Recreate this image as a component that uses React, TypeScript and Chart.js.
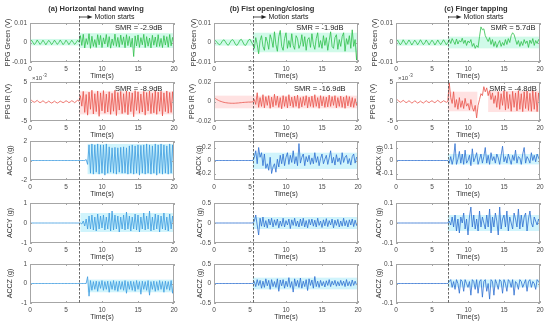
import React, { useEffect, useRef } from 'react';
import { Chart, registerables } from 'chart.js';
Chart.register(...registerables);

// ---------- data ----------
const TIME_STEP = 0.2; // s between samples, first sample at 0 s
const TIME_TICKS = [0, 5, 10, 15, 20];
const MOTION_START = [6.8, 5.4, 7.2];
const COLUMN_TITLES = ['(a) Horizontal hand waving', '(b) Fist opening/closing', '(c) Finger tapping'];
const ROW_TITLES = ['PPG Green (V)', 'PPG IR (V)', 'ACCX (g)', 'ACCY (g)', 'ACCZ (g)'];
const SMR_GREEN = ['SMR = -2.9dB', 'SMR = -1.9dB', 'SMR = 5.7dB'];
const SMR_IR = ['SMR = -8.9dB', 'SMR = -16.9dB', 'SMR = -4.8dB'];

// y tick values
const Y_TICKS_GREEN = [-0.01, 0, 0.01];
const Y_TICKS_IR_A = [-5, 0, 5]; // x10^-3
const Y_TICKS_IR_B = [-0.02, 0, 0.02];
const Y_TICKS_IR_C = [-5, 0, 5]; // x10^-3
const Y_TICKS_ACCX_A = [-2, 0, 2];
const Y_TICKS_ACCX_B = [-0.2, 0, 0.2];
const Y_TICKS_ACCX_C = [-0.1, 0, 0.1];
const Y_TICKS_ACCYZ_A = [-1, 0, 1];
const Y_TICKS_ACCYZ_B = [-0.5, 0, 0.5];
const Y_TICKS_ACCYZ_C = [-0.1, 0, 0.1];

// ---- column (a) horizontal hand waving ----
const GREEN_A_MV = [
  0.2,1.2,0.1,-1.1,-0.2,1.3,0.2,-1.0,-0.1,1.2,0.1,-1.2,0.0,1.1,0.2,-1.1,-0.1,1.2,0.1,-1.0,
  0.0,1.3,0.1,-1.1,-0.2,1.2,0.2,-1.1,0.0,1.2,0.1,-1.0,-0.1,1.1,0.3,
  3.5,-1.5,4.2,-2.8,2.0,-1.0,4.5,-3.0,3.2,-2.0,
  1.5,-2.5,4.0,-1.2,3.6,-2.6,2.4,-0.8,4.1,-2.2,
  3.0,-2.9,1.8,-1.5,4.3,-2.0,2.6,-2.4,3.8,-1.1,
  2.9,-2.7,4.0,-1.6,3.1,-2.3,2.2,-7.2,3.4,-1.8,
  3.9,-2.5,2.5,-1.2,4.2,-2.6,3.0,-1.9,2.3,-2.8,
  3.7,-1.4,2.8,-2.2,4.0,-2.0,2.1,-2.6,3.5,-1.3,
  3.0,-2.4,4.1,-1.7,2.6,-1.0,
];
const IR_A_E3 = [
  0.1,0.3,0,-0.2,0,0.3,-0.1,-0.3,-0.1,0.2,-0.1,-0.4,-0.2,0.1,-0.2,-0.4,-0.2,0.1,-0.2,-0.4,
  -0.2,0.1,-0.1,-0.3,-0.1,0.2,0,-0.3,-0.1,0.2,0,-0.3,0,0.3,0.1,
  1.5,-1.2,2.6,-2.8,1.8,-3.5,2.4,-2.0,2.9,-3.2,
  2.0,-2.6,2.7,-3.8,2.2,-2.4,2.8,-3.0,1.9,-2.7,
  2.5,-3.3,2.1,-2.5,2.9,-3.6,2.3,-2.2,2.6,-3.1,
  2.0,-2.8,2.7,-3.4,2.4,-2.6,2.2,-3.9,2.8,-2.3,
  2.5,-3.0,1.9,-2.7,2.6,-3.5,2.3,-2.4,2.7,-3.1,
  2.1,-2.9,2.8,-3.3,2.4,-2.5,2.6,-3.7,2.2,-2.6,
  2.7,-3.0,2.3,-2.8,2.5,-2.2,
];
const ACCX_A = [
  0,0,0,0,0,0,0,0,0,0, 0,0,0,0,0,0,0,0,0,0, 0,0,0,0,0,0,0,0,0,0, 0,0,0,0,0,0,0,0,0,
  0.1,-0.4,
  1.6,-1.3,1.7,-1.4,1.6,-1.2,1.7,-1.4,1.6,-1.3,
  1.6,-1.5,1.7,-1.3,1.4,-1.2,1.3,-1.3,1.35,-1.4,
  1.3,-1.2,1.35,-1.3,1.4,-1.3,1.3,-1.4,1.5,-1.3,
  1.6,-1.4,1.5,-1.3,1.6,-1.5,1.55,-1.3,1.6,-1.4,
  1.7,-1.3,1.6,-1.4,1.5,-1.3,1.7,-1.5,1.6,-1.3,
  1.7,-1.4,1.6,-1.3,1.5,-1.4,1.7,-1.3,1.6,-1.2,
];
const ACCY_A = [
  0,0,0,0,0,0,0,0,0,0, 0,0,0,0,0,0,0,0,0,0, 0,0,0,0,0,0,0,0,0,0, 0,0,0,0,0,0,
  -0.05,0.1,-0.15,0.2,-0.3,
  0.35,-0.3,0.4,-0.35,0.3,-0.4,0.45,-0.3,0.35,-0.25,
  0.4,-0.35,0.3,-0.3,0.5,-0.4,0.6,-0.35,0.4,-0.3,
  0.35,-0.45,0.3,-0.3,0.4,-0.35,0.55,-0.3,0.35,-0.4,
  0.3,-0.3,0.45,-0.35,0.4,-0.45,0.3,-0.3,0.5,-0.35,
  0.35,-0.3,0.6,-0.4,0.3,-0.35,0.45,-0.3,0.4,-0.45,
  0.35,-0.3,0.5,-0.35,0.3,-0.4,0.45,-0.3,0.35,-0.3,
];
const ACCZ_A = [
  0,0,0,0,0,0,0,0,0,0, 0,0,0,0,0,0,0,0,0,0, 0,0,0,0,0,0,0,0,0,0, 0,0,0,0,0,0,0,0,0,0,
  0.35,-0.65,
  0.15,-0.35,0.1,-0.3,0.12,-0.4,0.1,-0.25,0.15,-0.35,
  0.1,-0.3,0.12,-0.45,0.1,-0.3,0.15,-0.35,0.1,-0.4,
  0.12,-0.3,0.1,-0.35,0.15,-0.5,0.1,-0.3,0.12,-0.35,
  0.1,-0.4,0.15,-0.3,0.1,-0.55,0.12,-0.3,0.1,-0.35,
  0.15,-0.6,0.1,-0.3,0.12,-0.4,0.1,-0.35,0.15,-0.3,
  0.1,-0.45,0.12,-0.3,0.1,-0.35,0.15,-0.5,0.1,
];

// ---- column (b) fist opening/closing ----
const GREEN_B_MV = [
  0.5,1.0,0.2,-0.8,-1.2,-0.3,1.0,1.4,0.3,-1.0,-1.4,-0.2,1.1,1.5,0.4,-1.1,-1.5,-0.3,1.2,1.6,
  0.3,-1.2,-1.5,-0.2,1.3,1.7,0.2,-1.0,
  -3.0,2.5,-1.0,-5.8,1.0,3.5,-2.0,-4.0,2.8,0.5,
  -3.5,4.0,1.5,-2.5,5.5,-1.0,-4.5,3.0,6.2,-2.0,
  -4.0,2.0,5.0,-3.0,1.0,-2.5,4.5,-1.5,-3.5,3.5,
  2.0,-3.0,-1.0,4.0,-2.0,3.0,-4.0,1.5,2.5,-2.5,
  4.5,-1.0,-3.5,2.0,5.0,-2.5,1.0,-3.0,3.5,-1.5,
  2.5,-4.0,1.0,5.5,-2.0,-3.0,2.5,4.0,-3.5,1.5,
  -2.0,3.0,5.0,-4.5,2.0,-1.0,3.5,-3.0,6.5,-2.0,
  1.5,-9.0,2.0,
];
const IR_B_MV = [
  4.0,3.0,2.0,1.2,0.5,0,-0.5,-0.9,-1.2,-1.4,-1.6,-1.7,-1.8,-1.8,-1.8,-1.7,-1.6,-1.5,-1.3,-1.2,
  -1.0,-0.9,-0.8,-0.7,-0.6,-0.6,-0.5,-0.4,
  2.0,-3.0,9.0,-6.0,4.0,-5.0,7.0,-6.5,5.0,-4.0,
  6.0,-7.0,4.5,-5.5,7.5,-4.0,5.5,-6.0,4.0,-7.5,
  6.0,-5.0,5.0,-6.5,7.0,-4.5,4.5,-6.0,5.5,-5.0,
  6.5,-7.0,4.0,-5.5,5.0,-4.0,6.0,-6.5,4.5,-5.0,
  5.5,-6.0,7.0,-5.0,4.0,-7.0,6.0,-4.5,5.0,-6.0,
  4.5,-5.5,6.5,-5.0,5.0,-4.0,6.0,-6.5,4.0,-5.0,
  5.5,-6.0,4.5,-7.0,6.0,-4.5,5.0,-5.5,4.0,-6.0,
  3.0,-4.0,2.0,
];
const ACCX_B = [
  0,0,0,0,0,0,0,0,0,0, 0,0,0,0,0,0,0,0,0,0, 0,0,0,0,0,0,0,0,
  0.05,0.15,-0.05,0.2,0.05,0.12,-0.08,0.1,-0.12,-0.05,
  -0.15,0.05,-0.2,-0.1,-0.05,-0.18,0.02,-0.1,0.08,-0.05,
  0.1,-0.08,0.05,0.12,-0.06,0.08,-0.03,0.15,-0.05,0.06,
  -0.08,0.26,-0.04,0.05,0.1,-0.08,0.06,-0.02,0.08,-0.06,
  0.04,-0.05,0.12,-0.03,0.06,-0.08,0.03,0.1,-0.05,0.02,
  0.08,-0.06,0.04,0.15,-0.04,0.05,-0.07,0.09,-0.02,0.04,
  -0.06,0.12,-0.03,0.05,0.08,-0.05,0.03,-0.07,0.06,0.1,
  -0.04,0.05,0.02,
];
const ACCY_B = [
  0,0,0,0,0,0,0,0,0,0, 0,0,0,0,0,0,0,0,0,0, 0,0,0,0,0,0,0,0,
  0.05,0.2,-0.05,-0.3,0.12,-0.08,0.15,-0.1,0.06,-0.12,
  0.1,-0.05,0.12,-0.1,0.08,-0.06,0.1,-0.12,0.05,-0.08,
  0.12,-0.1,0.06,-0.05,0.1,-0.14,0.08,-0.06,0.12,-0.08,
  0.05,-0.1,0.1,-0.07,0.12,-0.1,0.06,-0.12,0.09,-0.05,
  0.1,-0.08,0.07,-0.1,0.12,-0.06,0.05,-0.11,0.08,-0.07,
  0.11,-0.09,0.06,-0.05,0.1,-0.12,0.07,-0.06,0.09,-0.1,
  0.05,-0.08,0.12,-0.07,0.06,-0.1,0.08,-0.05,0.1,-0.09,
  0.07,-0.06,0.03,
];
const ACCZ_B = [
  0,0,0,0,0,0,0,0,0,0, 0,0,0,0,0,0,0,0,0,0, 0,0,0,0,0,0,0,0,
  0.05,-0.08,0.1,-0.05,0.08,-0.12,0.06,-0.1,0.12,-0.06,
  0.08,-0.15,0.1,-0.08,0.05,-0.1,0.12,-0.2,0.09,-0.06,
  0.1,-0.12,0.06,-0.08,0.15,-0.1,0.05,-0.22,0.12,-0.07,
  0.08,-0.1,0.14,-0.12,0.06,-0.08,0.1,-0.18,0.12,-0.05,
  0.09,-0.12,0.18,-0.08,0.06,-0.1,0.08,-0.06,0.05,-0.09,
  0.07,-0.05,0.1,-0.08,0.06,-0.04,0.08,-0.07,0.05,-0.06,
  0.08,-0.05,0.06,-0.08,0.1,-0.06,0.05,-0.07,0.09,-0.05,
  0.06,-0.04,0.03,
];

// ---- column (c) finger tapping ----
const GREEN_C_MV = [
  0.5,1.3,0,-1.2,-0.2,1.4,0.2,-1.1,0,1.3,0.1,-1.3,-0.1,1.2,0.2,-1.2,0,1.4,0.1,-1.1,
  -0.2,1.3,0.1,-1.2,0,1.2,0.2,-1.3,-0.1,1.3,0,-1.1,0.1,1.4,0.2,-1.2,0,
  1.5,-0.5,2.0,0.5,-1.0,1.8,-0.8,1.0,0.2,2.2,
  -0.5,1.2,-1.5,0.8,-0.2,1.5,-2.0,-0.5,-3.0,-1.5,
  -2.5,3.0,8.0,6.5,7.0,3.5,2.0,0.5,2.5,-1.0,
  1.5,-2.0,0.5,-2.5,-0.5,1.0,-2.0,0,-1.5,1.5,
  -1.0,2.0,0,3.5,5.0,4.0,1.5,-1.0,1.0,-2.0,
  0.5,-1.5,1.5,-0.5,0.8,-2.5,1.2,-0.5,2.0,-1.5,
  1.0,-0.5,1.5,0.5,
];
const IR_C_E3 = [
  0.2,0.4,0.1,-0.2,0,0.3,0,-0.3,-0.1,0.2,-0.1,-0.4,-0.2,0.2,-0.1,-0.4,-0.2,0.1,-0.2,-0.4,
  -0.1,0.2,-0.1,-0.3,0,0.2,-0.1,-0.3,0,0.3,0,-0.3,-0.1,0.2,0,-0.2,0,
  4.8,1.0,-0.5,2.5,-1.5,0.5,-2.0,1.0,-1.5,0.2,
  -1.8,0.8,-1.2,-0.5,-2.2,0.5,-1.5,-2.5,-1.0,-4.2,
  -1.0,0.5,2.0,1.5,3.8,2.5,3.5,1.5,2.8,0.5,
  2.2,-0.5,1.5,-1.5,2.5,-2.0,2.0,-1.0,2.8,-2.2,
  2.5,-1.8,1.8,-2.5,2.6,-1.5,2.2,-2.4,2.8,-2.0,
  2.0,-2.6,2.5,-1.8,2.7,-2.3,2.1,-2.5,2.9,-2.0,
  2.4,-2.6,2.2,-1.5,
];
const ACCX_C = [
  0,0,0,0,0,0,0,0,0,0, 0,0,0,0,0,0,0,0,0,0, 0,0,0,0,0,0,0,0,0,0, 0,0,0,0,0,0,0,
  -0.02,0.03,-0.03,0.02,0.13,-0.03,0.01,0.07,-0.02,0.05,
  -0.03,0.08,-0.02,0.0,0.04,-0.04,0.09,-0.01,0.02,0.06,
  -0.03,0.01,0.05,-0.02,0.03,0.1,-0.02,0.04,-0.03,0.06,
  0.0,0.03,-0.02,0.05,0.02,-0.03,0.04,0.11,-0.01,0.03,
  -0.02,0.05,0.01,-0.03,0.04,0.0,0.08,-0.02,0.03,0.02,
  -0.03,0.05,0.1,-0.02,0.03,0.01,-0.02,0.06,0.0,0.04,
  -0.01,0.05,0.02,0.0,
];
const ACCY_C = [
  0,0,0,0,0,0,0,0,0,0, 0,0,0,0,0,0,0,0,0,0, 0,0,0,0,0,0,0,0,0,0, 0,0,0,0,0,0,0,
  0.01,-0.01,0.03,-0.02,0.04,-0.04,0.02,-0.05,0.03,0.0,
  0.05,-0.03,0.02,-0.06,0.03,0.08,-0.02,0.04,-0.03,0.02,
  -0.04,0.06,-0.02,0.03,0.0,-0.03,0.04,-0.02,0.07,-0.05,
  0.03,-0.02,0.05,0.01,-0.06,0.08,-0.03,0.02,0.04,-0.02,
  0.06,-0.04,0.03,0.0,-0.03,0.05,0.02,-0.02,0.07,-0.03,
  0.04,-0.02,0.03,0.05,-0.04,0.02,0.06,0.0,-0.02,0.03,
  0.01,-0.01,0.02,0.0,
];
const ACCZ_C = [
  0,0,0,0,0,0,0,0,0,0, 0,0,0,0,0,0,0,0,0,0, 0,0,0,0,0,0,0,0,0,0, 0,0,0,0,0,0,0,
  0.01,0.02,-0.02,0.01,-0.03,0.02,0.0,-0.05,0.02,0.01,
  -0.04,0.02,0.0,-0.02,0.01,-0.06,0.02,0.01,-0.03,0.02,
  -0.05,0.01,0.02,-0.07,0.01,0.02,-0.04,0.0,-0.08,0.02,
  0.01,-0.06,0.02,0.0,-0.03,0.02,0.01,-0.05,0.02,0.0,
  -0.04,0.02,0.01,-0.02,0.02,-0.06,0.01,0.0,-0.03,0.02,
  0.01,-0.02,0.0,0.02,-0.04,0.01,0.02,-0.02,0.01,0.0,
  -0.03,0.02,0.01,0.0,
];

// light shaded bands behind traces: [t0, t1, yLow, yHigh]
const BANDS_A = [
  [[0, 6.8, -0.0015, 0.0018], [6.8, 20, -0.0028, 0.0048]],
  [[6.8, 20, -3.3, 2.6]],
  [[8, 20, -1.4, 1.7]],
  [[7, 20, -0.45, 0.5]],
  [[8, 20, -0.45, 0.2]],
];
const BANDS_B = [
  [[0, 5.4, -0.0016, 0.0016], [5.4, 20, -0.005, 0.005]],
  [[0, 20, -0.007, 0.006]],
  [[5.4, 20, -0.13, 0.12]],
  [[5.4, 20, -0.15, 0.15]],
  [[5.4, 20, -0.15, 0.15]],
];
const BANDS_C = [
  [[0, 7.2, -0.0016, 0.0016], [7.2, 20, -0.003, 0.003]],
  [[7.2, 11.3, -2.5, 2.5], [12.8, 20, -2.7, 2.7]],
  [[7.2, 20, -0.03, 0.05]],
  [[7.2, 20, -0.04, 0.04]],
  [[7.2, 20, -0.02, 0.02]],
];

// ---------- styling / layout ----------
const FONT = "'Liberation Sans Narrow', 'Liberation Sans', Arial, sans-serif";
const TEXT = '#333333';
const TICK_TEXT = '#4a4a4a';
const GREEN = '#2fbf4a';
const RED = '#e8534a';
const BLUE_A = '#3b9be0';
const BLUE = '#2c6fd0';
const BAND_COLORS = ['rgba(170,245,215,0.55)', 'rgba(255,190,190,0.45)', 'rgba(170,235,250,0.55)'];

const BOX_LEFT = [30, 214, 396];
const BOX_W = 144;
const BOX_TOP = [23, 82, 141, 203, 264];
const BOX_BOTTOM = [62, 121, 180, 243, 303];
const AXIS_W = 30;
const AXIS_H = 24;
const PAD_RIGHT = 8;
const TITLE_OFFSET = [
  [22, 22, 20, 20, 20],
  [20, 22, 15, 14, 14],
  [21, 23, 17, 17, 17],
];
const COL_TITLE_SHIFT = [66, 58, 80];

type Cell = {
  values: number[]; unit: number; range: [number, number]; ticks: number[];
  color: string; bands: number[][]; bandColor: string; smr?: { text: string; x: number; y: number }; exp?: boolean;
};

function buildGrid(): Cell[][] {
  const cols = [
    { g: GREEN_A_MV, ir: IR_A_E3, irUnit: 1, irRange: [-5, 5], irTicks: Y_TICKS_IR_A, exp: true,
      ax: ACCX_A, ay: ACCY_A, az: ACCZ_A, axR: [-2, 2], axT: Y_TICKS_ACCX_A, ayzR: [-1, 1], ayzT: Y_TICKS_ACCYZ_A,
      bands: BANDS_A, blue: BLUE_A, smrX: 15.1, smrIrY: 3.2 },
    { g: GREEN_B_MV, ir: IR_B_MV, irUnit: 1e-3, irRange: [-0.02, 0.02], irTicks: Y_TICKS_IR_B, exp: false,
      ax: ACCX_B, ay: ACCY_B, az: ACCZ_B, axR: [-0.3, 0.3], axT: Y_TICKS_ACCX_B, ayzR: [-0.5, 0.5], ayzT: Y_TICKS_ACCYZ_B,
      bands: BANDS_B, blue: BLUE, smrX: 14.7, smrIrY: 0.0128 },
    { g: GREEN_C_MV, ir: IR_C_E3, irUnit: 1, irRange: [-5, 5], irTicks: Y_TICKS_IR_C, exp: true,
      ax: ACCX_C, ay: ACCY_C, az: ACCZ_C, axR: [-0.15, 0.15], axT: Y_TICKS_ACCX_C, ayzR: [-0.1, 0.1], ayzT: Y_TICKS_ACCYZ_C,
      bands: BANDS_C, blue: BLUE, smrX: 16.25, smrIrY: 3.2 },
  ];
  return cols.map((c, ci) => [
    { values: c.g, unit: 1e-3, range: [-0.01, 0.01], ticks: Y_TICKS_GREEN, color: GREEN, bands: c.bands[0], bandColor: BAND_COLORS[0],
      smr: { text: SMR_GREEN[ci], x: c.smrX, y: 0.0075 } },
    { values: c.ir, unit: c.irUnit, range: c.irRange as [number, number], ticks: c.irTicks, color: RED, bands: c.bands[1], bandColor: BAND_COLORS[1],
      smr: { text: SMR_IR[ci], x: c.smrX, y: c.smrIrY }, exp: c.exp },
    { values: c.ax, unit: 1, range: c.axR as [number, number], ticks: c.axT, color: c.blue, bands: c.bands[2], bandColor: BAND_COLORS[2] },
    { values: c.ay, unit: 1, range: c.ayzR as [number, number], ticks: c.ayzT, color: c.blue, bands: c.bands[3], bandColor: BAND_COLORS[2] },
    { values: c.az, unit: 1, range: c.ayzR as [number, number], ticks: c.ayzT, color: c.blue, bands: c.bands[4], bandColor: BAND_COLORS[2] },
  ]);
}

function makePlugin(cell: Cell, col: number, row: number) {
  return {
    id: 'cellDecor',
    beforeDatasetsDraw(chart: any) {
      const { ctx, chartArea: a, scales: { x, y } } = chart;
      ctx.save();
      ctx.beginPath();
      ctx.rect(a.left, a.top, a.right - a.left, a.bottom - a.top);
      ctx.clip();
      ctx.fillStyle = cell.bandColor;
      for (const [t0, t1, y0, y1] of cell.bands) {
        const px0 = x.getPixelForValue(t0), px1 = x.getPixelForValue(t1);
        const py0 = y.getPixelForValue(y1), py1 = y.getPixelForValue(y0);
        ctx.fillRect(px0, py0, px1 - px0, py1 - py0);
      }
      ctx.restore();
    },
    afterDatasetsDraw(chart: any) {
      const { ctx, chartArea: a, scales: { x, y } } = chart;
      ctx.save();
      // box
      ctx.strokeStyle = '#a6a6a6';
      ctx.lineWidth = 1;
      ctx.strokeRect(a.left + 0.5, a.top + 0.5, a.right - a.left - 1, a.bottom - a.top - 1);
      // inward ticks
      ctx.beginPath();
      for (const t of TIME_TICKS) {
        const px = Math.round(x.getPixelForValue(t)) + 0.5;
        ctx.moveTo(px, a.bottom); ctx.lineTo(px, a.bottom - 2);
        ctx.moveTo(px, a.top); ctx.lineTo(px, a.top + 2);
      }
      for (const t of cell.ticks) {
        const py = Math.round(y.getPixelForValue(t)) + 0.5;
        ctx.moveTo(a.left, py); ctx.lineTo(a.left + 2, py);
        ctx.moveTo(a.right, py); ctx.lineTo(a.right - 2, py);
      }
      ctx.stroke();

      // motion start dashed line
      const mx = Math.round(x.getPixelForValue(MOTION_START[col])) + 0.5;
      const y0 = row === 0 ? 16 : a.top;
      const y1 = row === 4 ? a.bottom : a.bottom + (BOX_TOP[row + 1] - BOX_BOTTOM[row]);
      ctx.strokeStyle = '#444';
      ctx.lineWidth = 0.8;
      ctx.setLineDash([2.5, 1.5]);
      ctx.beginPath(); ctx.moveTo(mx, y0); ctx.lineTo(mx, y1); ctx.stroke();
      ctx.setLineDash([]);

      ctx.fillStyle = TEXT;
      if (row === 0) {
        // column title
        ctx.font = `bold 7.5px ${FONT}`;
        ctx.textAlign = 'center'; ctx.textBaseline = 'middle';
        ctx.fillText(COLUMN_TITLES[col], a.left + COL_TITLE_SHIFT[col], 8.5);
        // arrow + Motion starts
        ctx.strokeStyle = '#222'; ctx.lineWidth = 0.8;
        ctx.beginPath(); ctx.moveTo(mx, 17); ctx.lineTo(mx + 9, 17); ctx.stroke();
        ctx.fillStyle = '#222';
        ctx.beginPath(); ctx.moveTo(mx + 13, 17); ctx.lineTo(mx + 8, 15); ctx.lineTo(mx + 8, 19); ctx.closePath(); ctx.fill();
        ctx.font = `7px ${FONT}`;
        ctx.textAlign = 'left';
        ctx.fillText('Motion starts', mx + 15, 17);
      }
      if (cell.smr) {
        ctx.fillStyle = '#222';
        ctx.font = `7.5px ${FONT}`;
        ctx.textAlign = 'center'; ctx.textBaseline = 'middle';
        ctx.fillText(cell.smr.text, x.getPixelForValue(cell.smr.x), y.getPixelForValue(cell.smr.y));
      }
      if (cell.exp) {
        ctx.fillStyle = TICK_TEXT;
        ctx.textAlign = 'left'; ctx.textBaseline = 'middle';
        ctx.font = `6px ${FONT}`;
        ctx.fillText('\u00d710', a.left + 2, a.top - 4);
        const w = ctx.measureText('\u00d710').width;
        ctx.font = `4.5px ${FONT}`;
        ctx.fillText('-3', a.left + 2 + w + 0.5, a.top - 6.5);
      }
      ctx.restore();
    },
  };
}

function CellChart({ cell, col, row }: { cell: Cell; col: number; row: number }) {
  const ref = useRef<HTMLCanvasElement>(null);
  const padTop = row === 0 ? BOX_TOP[0] : 12;
  const boxH = BOX_BOTTOM[row] - BOX_TOP[row];
  const width = AXIS_W + BOX_W + PAD_RIGHT;
  const height = padTop + boxH + AXIS_H;
  const left = BOX_LEFT[col] - AXIS_W;
  const top = BOX_TOP[row] - padTop;

  useEffect(() => {
    const tickFont = { family: FONT, size: 6.5 };
    const titleFont = { family: FONT, size: 7, lineHeight: 1 };
    const chart = new Chart(ref.current as HTMLCanvasElement, {
      type: 'line',
      data: {
        datasets: [{
          data: cell.values.map((v, i) => ({ x: i * TIME_STEP, y: v * cell.unit })),
          borderColor: cell.color,
          borderWidth: 0.8,
          pointRadius: 0,
          tension: 0,
          fill: false,
        }],
      },
      options: {
        animation: false,
        responsive: false,
        devicePixelRatio: 1,
        events: [],
        layout: { padding: { top: padTop, right: PAD_RIGHT, left: 0, bottom: 0 } },
        plugins: { legend: { display: false }, tooltip: { enabled: false }, title: { display: false } },
        scales: {
          x: {
            type: 'linear', min: 0, max: 20,
            afterBuildTicks: (s: any) => { s.ticks = TIME_TICKS.map((v) => ({ value: v })); },
            afterFit: (s: any) => { s.height = AXIS_H; },
            grid: { display: false, drawTicks: false },
            border: { display: false },
            ticks: { padding: 3, font: tickFont, color: TICK_TEXT, maxRotation: 0, autoSkip: false, callback: (v: any) => String(v) },
            title: { display: true, text: 'Time(s)', font: titleFont, color: TEXT, padding: { top: 0, bottom: 6.5 } },
          },
          y: {
            type: 'linear', min: cell.range[0], max: cell.range[1],
            afterBuildTicks: (s: any) => { s.ticks = cell.ticks.map((v) => ({ value: v })); },
            afterFit: (s: any) => { s.width = AXIS_W; },
            grid: { display: false, drawTicks: false },
            border: { display: false },
            ticks: { padding: 3, font: tickFont, color: TICK_TEXT, autoSkip: false, callback: (v: any) => String(v) },
            title: { display: true, text: ROW_TITLES[row], font: titleFont, color: TEXT,
              padding: { top: AXIS_W - TITLE_OFFSET[col][row] - 3.5, bottom: 0 } },
          },
        },
      } as any,
      plugins: [makePlugin(cell, col, row)],
    });
    return () => chart.destroy();
  }, []);

  return (
    <canvas ref={ref} width={width} height={height}
      style={{ position: 'absolute', left, top, width, height }} />
  );
}

export default function App() {
  const grid = buildGrid();
  return (
    <div style={{ position: 'fixed', left: 0, top: 0, width: 550, height: 327, background: '#fff', overflow: 'hidden' }}>
      {grid.map((column, ci) => column.map((cell, ri) => (
        <CellChart key={`${ci}-${ri}`} cell={cell} col={ci} row={ri} />
      )))}
    </div>
  );
}
